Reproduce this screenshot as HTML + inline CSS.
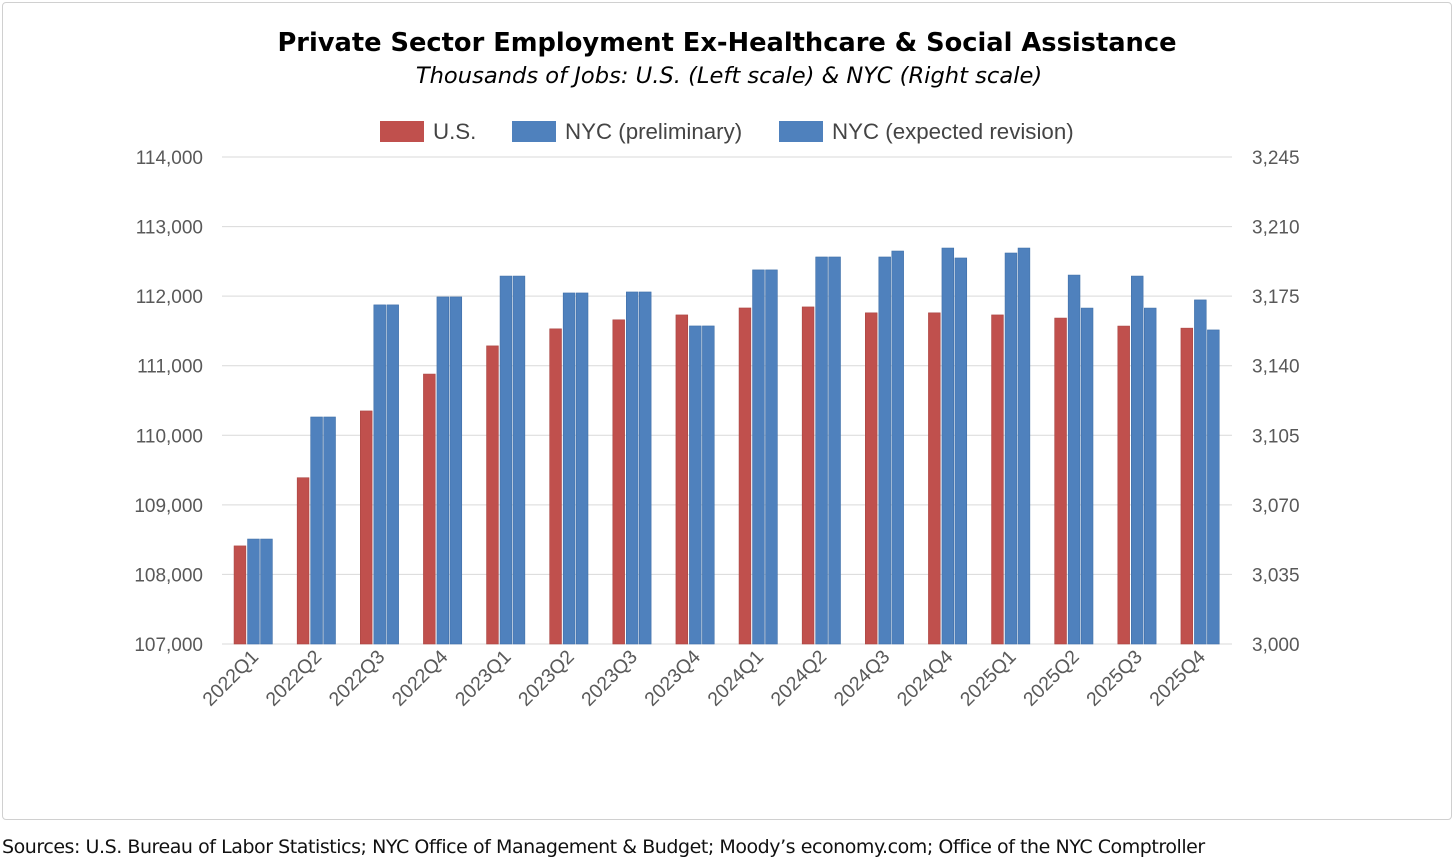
<!DOCTYPE html>
<html><head><meta charset="utf-8"><style>
body{margin:0;background:#fff;width:1456px;height:862px;overflow:hidden;font-family:"Liberation Sans",sans-serif}
#frame{position:absolute;left:2px;top:2px;width:1448px;height:816px;border:1px solid #d0d0d0;border-radius:4px}
#src{position:absolute;left:2px;top:836px;font-size:19px;color:#111;font-family:"DejaVu Sans","Liberation Sans",sans-serif;letter-spacing:-0.45px}
</style></head><body>
<div id="frame"></div>
<svg id="chart" width="1456" height="862" style="position:absolute;left:0;top:0">
<text x="727" y="51" text-anchor="middle" font-family="DejaVu Sans,Liberation Sans,sans-serif" font-weight="bold" font-size="25.7" fill="#000">Private Sector Employment Ex-Healthcare &amp; Social Assistance</text>
<text x="729" y="83" text-anchor="middle" font-family="DejaVu Sans,Liberation Sans,sans-serif" font-style="italic" font-size="22.6" fill="#000">Thousands of Jobs: U.S. (Left scale) &amp; NYC (Right scale)</text>
<g font-size="22.3" fill="#444">
<g><rect x="380" y="121" width="44" height="21" fill="#c0504d"/><text x="433" y="139">U.S.</text></g>
<g><rect x="512" y="121" width="44" height="21" fill="#4f81bd"/><text x="565" y="139">NYC (preliminary)</text></g>
<g><rect x="779" y="121" width="44" height="21" fill="#4f81bd"/><text x="832" y="139">NYC (expected revision)</text></g>
</g>
<g id="grid"></g><g id="bars"></g><g id="axes"></g>
</svg>
<div id="src">Sources: U.S. Bureau of Labor Statistics; NYC Office of Management &amp; Budget; Moody’s economy.com; Office of the NYC Comptroller</div>
<script>
const categories=["2022Q1","2022Q2","2022Q3","2022Q4","2023Q1","2023Q2","2023Q3","2023Q4","2024Q1","2024Q2","2024Q3","2024Q4","2025Q1","2025Q2","2025Q3","2025Q4"];
const usValues=[108410,109390,110350,110880,111285,111530,111660,111730,111830,111845,111760,111760,111730,111685,111570,111540];
const nycPrelim=[3052.8,3114.2,3170.6,3174.6,3185.1,3176.6,3177.1,3160,3188.2,3194.7,3194.7,3199.2,3196.7,3185.6,3185.1,3173.1];
const nycRevision=[3052.8,3114.2,3170.6,3174.6,3185.1,3176.6,3177.1,3160,3188.2,3194.7,3197.7,3194.2,3199.2,3169,3169,3158];
const leftTicks=[107000,108000,109000,110000,111000,112000,113000,114000];
const rightTicks=[3000,3035,3070,3105,3140,3175,3210,3245];
const NS="http://www.w3.org/2000/svg";
const X0=222,X1=1232,Y0=644,Y1=157;
const yL=v=>Y0-(v-107000)/7000*(Y0-Y1);
const yR=v=>Y0-(v-3000)/245*(Y0-Y1);
const step=(X1-X0)/categories.length;
const xC=i=>X0+step*(i+0.5);
function mk(tag,attrs,parent){const e=document.createElementNS(NS,tag);for(const k in attrs)e.setAttribute(k,attrs[k]);parent.appendChild(e);return e;}
const grid=document.getElementById('grid'),bars=document.getElementById('bars'),axes=document.getElementById('axes');
leftTicks.forEach((t,i)=>{
 const y=yL(t);
 const l=mk('line',{x1:X0,x2:X1,y1:y,y2:y,stroke:'#d9d9d9','stroke-width':1},grid);
 
 
 const a=mk('text',{x:203,y:y+7,'text-anchor':'end','font-size':19,fill:'#595959'},axes);
 a.textContent=t.toLocaleString('en-US');
 
 
});
rightTicks.forEach(t=>{
 const y=yR(t);
 const a=mk('text',{x:1252,y:y+7,'font-size':19,fill:'#595959'},axes);
 a.textContent=t.toLocaleString('en-US');
 
 
});
const bw=11.8;
categories.forEach((c,i)=>{
 const cx=xC(i);
 const specs=[[usValues[i],yL,'#c0504d','#a94542',-19.5,'bar-us'],[nycPrelim[i],yR,'#4f81bd','#3f6fa8',-6,'bar-nyc-preliminary'],[nycRevision[i],yR,'#4f81bd','#3f6fa8',7,'bar-nyc-revision']];
 specs.forEach(s=>{
  const y=s[1](s[0]);
  const r=mk('rect',{x:cx+s[4],y:y,width:bw,height:Y0-y,fill:s[2],stroke:s[3],'stroke-width':0.6},bars);
  
  
 });
 const t=mk('text',{x:cx+6,y:658,'text-anchor':'end','font-size':19.5,fill:'#595959',transform:`rotate(-45 ${cx+6} 658)`},axes);
 t.textContent=c;
 
 
});
</script>
</body></html>
